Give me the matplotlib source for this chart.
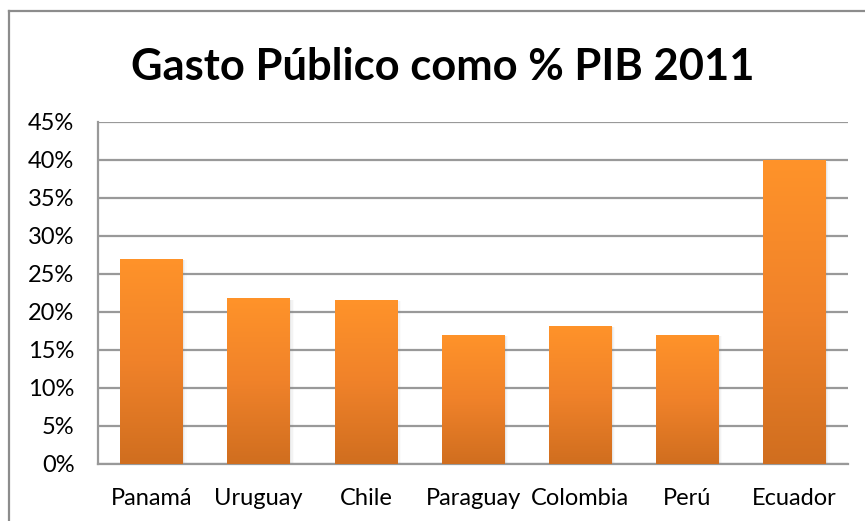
import matplotlib
matplotlib.use('Agg')
import matplotlib.pyplot as plt
from matplotlib.lines import Line2D
from matplotlib.patches import Rectangle
from matplotlib.colors import LinearSegmentedColormap
from matplotlib.ticker import FuncFormatter
import numpy as np

# data
paises = ['Panamá', 'Uruguay', 'Chile', 'Paraguay', 'Colombia', 'Perú', 'Ecuador']
gasto = [0.27, 0.218, 0.216, 0.170, 0.182, 0.170, 0.40]
yticks = [0.0, 0.05, 0.10, 0.15, 0.20, 0.25, 0.30, 0.35, 0.40, 0.45]

plt.rcParams['font.family'] = ['Lato', 'DejaVu Sans']

fig = plt.figure(figsize=(8.65, 5.21), dpi=100)
ax = fig.add_axes([98 / 865, 57 / 521, 750 / 865, 342 / 521])

# orange gradient, light on top, dark at the bottom
cmap = LinearSegmentedColormap.from_list('naranja', ['#D06E1F', '#F0822A', '#FF9329'])
grad = np.linspace(0, 1, 256).reshape(-1, 1)

x = np.arange(len(paises))
width = 0.585
bars = ax.bar(x, gasto, width=width, color='none', edgecolor='none', zorder=3)
for b in bars:
    x0, y0 = b.get_x(), b.get_y()
    w, h = b.get_width(), b.get_height()
    # soft shadow on the right side
    for k, a in enumerate([0.10, 0.06, 0.03]):
        ax.add_patch(Rectangle((x0 + 0.012 * (k + 1), y0), w, h - 0.002,
                               facecolor='#808080', alpha=a, edgecolor='none', zorder=2))
    im = ax.imshow(grad, cmap=cmap, aspect='auto', origin='lower',
                   extent=[x0, x0 + w, y0, y0 + h], zorder=3)
    im.set_clip_path(b)

ax.set_xlim(-0.5, len(paises) - 0.5)
ax.set_ylim(0, 0.45)
ax.set_yticks(yticks)
ax.yaxis.set_major_formatter(FuncFormatter(lambda v, p: f'{v * 100:.0f}%'))
ax.set_xticks(x)
ax.set_xticklabels(paises)
ax.grid(axis='y', color='#999999', linewidth=1.6, zorder=1)
ax.tick_params(axis='both', length=0, labelsize=17, colors='black')
ax.tick_params(axis='y', pad=17)
ax.tick_params(axis='x', pad=17)

for s in ['top', 'right']:
    ax.spines[s].set_visible(False)
for s in ['left', 'bottom']:
    ax.spines[s].set_color('#999999')
    ax.spines[s].set_linewidth(1.6)

fig.text(443 / 865, 1 - 67 / 521, 'Gasto Público como % PIB 2011', ha='center', va='center',
         fontsize=31.3, fontweight='bold')

# outer chart frame (top and left visible)
fig.add_artist(Line2D([9 / 865, 1.0], [1 - 10.5 / 521, 1 - 10.5 / 521], color='#8C8C8C', linewidth=1.6))
fig.add_artist(Line2D([9 / 865, 9 / 865], [0, 1 - 10.5 / 521], color='#8C8C8C', linewidth=1.6))

plt.savefig('out.png', dpi=100)
plt.close('all')
